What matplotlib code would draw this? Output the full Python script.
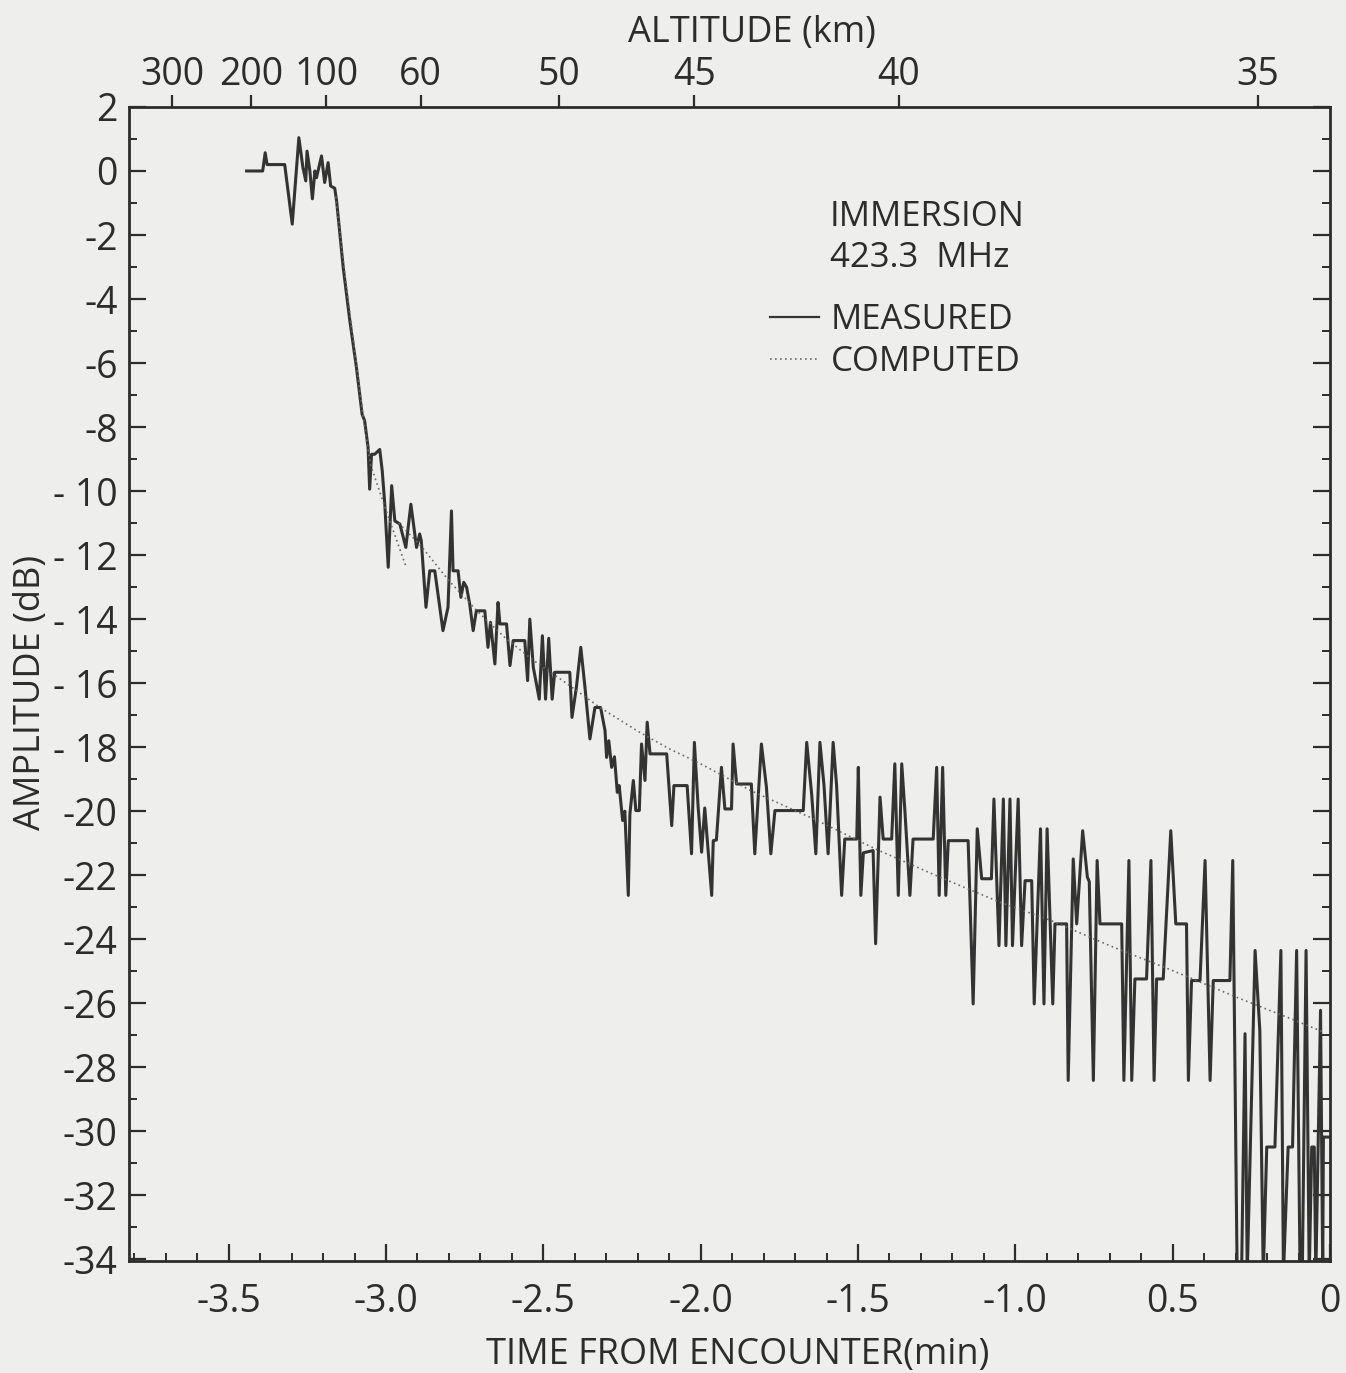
import numpy as np
import matplotlib
matplotlib.use('Agg')
import matplotlib.pyplot as plt
from matplotlib.ticker import MultipleLocator, FixedLocator
from matplotlib.lines import Line2D

plt.rcParams['font.family'] = ['Open Sans', 'DejaVu Sans']

# measured amplitude (time in min, amplitude in dB)
meas_t = [-3.443, -3.392, -3.384, -3.378, -3.322, -3.298, -3.277, -3.264, -3.255, -3.251,
          -3.242, -3.234, -3.226, -3.221, -3.205, -3.195, -3.184, -3.176, -3.163, -3.157,
          -3.136, -3.115, -3.094, -3.076, -3.068, -3.057, -3.052, -3.046, -3.036, -3.020,
          -3.012, -3.004, -2.993, -2.982, -2.972, -2.956, -2.937, -2.921, -2.903, -2.893,
          -2.888, -2.873, -2.861, -2.845, -2.819, -2.803, -2.792, -2.787, -2.771, -2.762,
          -2.753, -2.744, -2.734, -2.723, -2.713, -2.686, -2.676, -2.668, -2.654, -2.644,
          -2.638, -2.617, -2.606, -2.596, -2.559, -2.550, -2.543, -2.532, -2.513, -2.503,
          -2.493, -2.483, -2.472, -2.464, -2.416, -2.409, -2.395, -2.381, -2.368, -2.352,
          -2.336, -2.318, -2.304, -2.299, -2.292, -2.283, -2.274, -2.265, -2.259, -2.248,
          -2.241, -2.230, -2.225, -2.214, -2.206, -2.195, -2.188, -2.177, -2.170, -2.161,
          -2.108, -2.092, -2.085, -2.043, -2.029, -2.020, -2.008, -1.997, -1.987, -1.976,
          -1.965, -1.960, -1.950, -1.934, -1.923, -1.902, -1.897, -1.886, -1.839, -1.828,
          -1.807, -1.791, -1.777, -1.764, -1.674, -1.663, -1.647, -1.634, -1.621, -1.608,
          -1.595, -1.579, -1.568, -1.552, -1.542, -1.504, -1.499, -1.491, -1.483, -1.452,
          -1.444, -1.430, -1.420, -1.393, -1.383, -1.372, -1.361, -1.351, -1.335, -1.325,
          -1.261, -1.250, -1.242, -1.231, -1.221, -1.213, -1.150, -1.134, -1.121, -1.107,
          -1.076, -1.068, -1.052, -1.038, -1.030, -1.017, -1.009, -0.991, -0.980, -0.969,
          -0.948, -0.940, -0.920, -0.909, -0.899, -0.881, -0.874, -0.837, -0.832, -0.816,
          -0.805, -0.786, -0.771, -0.765, -0.752, -0.740, -0.731, -0.662, -0.655, -0.639,
          -0.630, -0.620, -0.583, -0.569, -0.559, -0.551, -0.530, -0.506, -0.490, -0.456,
          -0.450, -0.440, -0.413, -0.397, -0.381, -0.371, -0.318, -0.309, -0.295, -0.281,
          -0.270, -0.263, -0.238, -0.223, -0.212, -0.201, -0.175, -0.156, -0.148, -0.133,
          -0.119, -0.106, -0.095, -0.088, -0.076, -0.066, -0.058, -0.050, -0.045, -0.030,
          -0.023, -0.021, 0.0]
meas_db = [0.0, 0.0, 0.57, 0.2, 0.2, -1.66, 1.04, 0.1, -0.31, 0.62,
           0.0, -0.87, 0.0, -0.21, 0.47, -0.36, 0.26, -0.47, -0.54, -0.94,
           -3.02, -4.68, -6.14, -7.6, -7.8, -8.64, -9.94, -8.85, -8.85, -8.7,
           -9.37, -10.4, -12.38, -9.83, -10.93, -11.03, -11.76, -10.41, -11.76, -11.34,
           -11.55, -13.63, -12.49, -12.49, -14.36, -13.63, -10.62, -12.49, -12.49, -13.32,
           -12.85, -13.0, -13.53, -14.36, -13.74, -13.74, -14.88, -14.1, -15.4, -13.48,
           -14.15, -14.15, -15.45, -14.67, -14.67, -15.92, -14.0, -15.5, -16.5, -14.52,
           -16.5, -14.6, -16.5, -15.66, -15.66, -17.07, -16.13, -14.88, -16.1, -17.74,
           -16.76, -16.76, -17.48, -18.32, -17.8, -18.63, -18.3, -19.41, -19.2, -20.29,
           -20.0, -22.63, -20.1, -19.04, -19.98, -19.98, -17.9, -19.04, -17.22, -18.21,
           -18.21, -20.45, -19.2, -19.2, -21.33, -17.85, -19.88, -21.28, -19.9, -21.28,
           -22.63, -20.92, -20.9, -18.63, -19.93, -19.93, -17.9, -19.15, -19.15, -21.33,
           -17.9, -19.25, -21.33, -19.98, -19.98, -17.85, -19.5, -21.33, -17.85, -19.2,
           -21.33, -17.85, -19.2, -22.63, -20.87, -20.87, -18.63, -22.63, -21.3, -21.23,
           -24.14, -19.56, -20.87, -20.87, -18.52, -22.63, -18.52, -19.98, -22.63, -20.87,
           -20.87, -18.63, -22.63, -18.63, -22.63, -20.92, -20.92, -26.02, -20.55, -22.11,
           -22.11, -19.62, -24.2, -19.62, -24.2, -19.62, -24.2, -19.62, -24.2, -22.17,
           -22.17, -26.02, -20.55, -26.02, -20.55, -26.02, -23.52, -23.52, -28.41, -21.49,
           -23.52, -20.61, -22.06, -22.2, -28.41, -21.54, -23.52, -23.52, -28.41, -21.54,
           -28.41, -25.24, -25.24, -21.54, -28.41, -25.24, -25.24, -20.61, -23.52, -23.52,
           -28.41, -25.29, -25.29, -21.54, -28.41, -25.29, -25.29, -21.54, -34.5, -34.5,
           -26.95, -34.5, -24.35, -26.85, -34.5, -30.49, -30.49, -24.35, -34.5, -30.49,
           -30.49, -24.35, -34.5, -34.5, -24.35, -34.5, -30.49, -30.49, -34.5, -26.22,
           -34.5, -30.18, -30.18]

# computed curve, drawn in two pieces on the original
comp1_t = [-3.16, -3.13, -3.10, -3.075, -3.05, -3.00, -2.935]
comp1_db = [-0.8, -3.3, -5.6, -7.5, -9.15, -10.6, -12.4]
comp2_t = [-2.96, -2.89, -2.80, -2.71, -2.62, -2.53, -2.42, -2.32, -2.20, -2.10, -2.00,
           -1.84, -1.63, -1.44, -1.24, -1.05, -0.89, -0.70, -0.50, -0.30, -0.12, -0.02]
comp2_db = [-11.0, -11.7, -12.8, -13.75, -14.6, -15.3, -16.05, -16.76, -17.5, -18.05, -18.52,
            -19.36, -20.29, -21.2, -22.06, -22.84, -23.4, -24.2, -24.98, -25.8, -26.5, -26.9]

# altitude scale along the top
alt_labels = ['300', '200', '100', '60', '50', '45', '40', '35']
alt_t = [-3.68, -3.43, -3.19, -2.89, -2.45, -2.02, -1.37, -0.23]

x_ticks = [-3.5, -3.0, -2.5, -2.0, -1.5, -1.0, -0.5, 0.0]
x_ticklabels = ['-3.5', '-3.0', '-2.5', '-2.0', '-1.5', '-1.0', '0.5', '0']
y_ticks = list(range(2, -35, -2))
y_ticklabels = ['2', '0', '-2', '-4', '-6', '-8', '- 10', '- 12', '- 14', '- 16', '- 18',
                '-20', '-22', '-24', '-26', '-28', '-30', '-32', '-34']

ink = '#2c2c2c'
paper = '#eeeeec'

fig = plt.figure(figsize=(13.46, 13.73), dpi=100, facecolor=paper)
ax = fig.add_axes([0.0958, 0.0816, 0.8923, 0.8405], facecolor=paper)

ax.plot(meas_t, meas_db, color='#333333', lw=2.2, solid_joinstyle='round')
ax.plot(comp1_t, comp1_db, color='#6a6a6a', lw=1.2, linestyle=(0, (1, 2)))
ax.plot(comp2_t, comp2_db, color='#6a6a6a', lw=1.2, linestyle=(0, (1, 2)))

ax.set_xlim(-3.817, 0.0)
ax.set_ylim(-34.05, 2.0)

for s in ax.spines.values():
    s.set_linewidth(2.0)
    s.set_color(ink)

ax.xaxis.set_major_locator(FixedLocator(x_ticks))
ax.set_xticklabels(x_ticklabels)
ax.xaxis.set_minor_locator(MultipleLocator(0.1))
ax.yaxis.set_major_locator(FixedLocator(y_ticks))
ax.set_yticklabels(y_ticklabels)
ax.yaxis.set_minor_locator(MultipleLocator(1))

ax.tick_params(which='both', direction='in', top=True, right=True, color=ink,
               labelcolor=ink, labelsize=27)
ax.tick_params(which='major', length=12, width=1.6)
ax.tick_params(which='minor', length=6, width=1.4)
ax.tick_params(axis='x', pad=16)
ax.tick_params(axis='y', pad=8)

ax2 = ax.twiny()
ax2.set_xlim(ax.get_xlim())
ax2.xaxis.set_major_locator(FixedLocator(alt_t))
ax2.set_xticklabels(alt_labels)
ax2.tick_params(axis='x', direction='out', length=9, width=1.6, color=ink,
                labelcolor=ink, labelsize=27, pad=0)
for s in ax2.spines.values():
    s.set_visible(False)

fig.text(0.559, 0.976, 'ALTITUDE (km)', ha='center', va='center', fontsize=26, color=ink)
fig.text(0.548, 0.013, 'TIME FROM ENCOUNTER(min)', ha='center', va='center',
         fontsize=26, color=ink)
fig.text(0.023, 0.496, 'AMPLITUDE (dB)', ha='center', va='center', rotation=90,
         fontsize=26, color=ink)

ax.text(0.5837, 0.905, 'IMMERSION', transform=ax.transAxes, ha='left', va='center',
        fontsize=25, color=ink)
ax.text(0.5837, 0.869, '423.3  MHz', transform=ax.transAxes, ha='left', va='center',
        fontsize=25, color=ink)

handles = [Line2D([], [], color='#333333', lw=1.6),
           Line2D([], [], color='#6a6a6a', lw=1.2, linestyle=(0, (1, 2)))]
leg = ax.legend(handles, ['MEASURED', 'COMPUTED'], loc='upper left',
                bbox_to_anchor=(0.5337, 0.830), frameon=False, fontsize=25,
                handlelength=1.4, handletextpad=0.35, labelspacing=0.22,
                borderpad=0, borderaxespad=0)
for t in leg.get_texts():
    t.set_color(ink)

plt.savefig('out.png', dpi=100, facecolor=paper)
